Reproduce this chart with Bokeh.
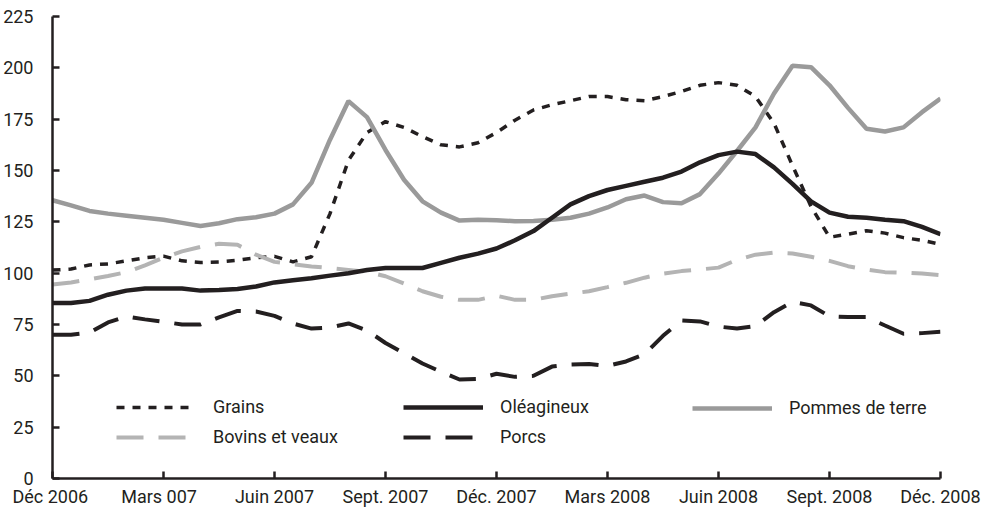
from bokeh.plotting import figure
from bokeh.models import FixedTicker, Legend, LegendItem, Range1d
from bokeh.embed import file_html
from bokeh.resources import INLINE

# ---- data (half-month index: 0 = Déc 2006 ... 24 = Déc 2008) ----
months = [i / 2 for i in range(49)]

grains = [101.5, 102, 104, 104.5, 106, 107.5, 108.3, 106, 105.2, 105.5, 106.3, 107.5,
          108.2, 105.5, 108, 129, 155, 168.5, 173.8, 171, 166.5, 162.5, 161.5, 163.5,
          168.5, 174.5, 179.5, 182, 184, 186, 186, 184.5, 184, 186, 188.5, 191.5,
          192.8, 191.5, 186, 173, 152.4, 132.5, 117.5, 119, 120.7, 119.5, 117.3, 116, 114]
oleagineux = [85.5, 85.5, 86.5, 89.5, 91.5, 92.5, 92.5, 92.5, 91.5, 91.8, 92.3, 93.5,
              95.5, 96.5, 97.5, 98.8, 100, 101.5, 102.5, 102.5, 102.5, 105, 107.5, 109.5,
              112, 116, 120.5, 127, 133.5, 137.5, 140.5, 142.5, 144.5, 146.5, 149.5, 154,
              157.5, 159.2, 158, 151.5, 143.5, 135, 129.5, 127.5, 127, 126, 125.3, 122.5, 119]
pommes = [135.5, 133, 130.3, 129, 128, 127, 126, 124.5, 123, 124.3, 126.3, 127.2,
          129, 133.5, 144, 165, 183.8, 176, 160, 145.5, 135, 129.5, 125.6, 126,
          125.8, 125.3, 125.4, 126, 127, 129, 132, 136, 137.8, 134.6, 134, 138.5,
          148.5, 159.5, 171, 187.5, 201, 200.3, 191.5, 180.5, 170.3, 169, 171, 178.4, 185]
bovins = [94.5, 95.5, 97, 98.6, 100.5, 103.8, 107.5, 110.6, 112.8, 114.3, 113.8, 109,
          105.5, 104.3, 103.3, 102.5, 101.6, 100.7, 98.5, 95, 91.2, 88.5, 87, 87,
          89, 87, 87, 88.8, 90, 91.2, 93.2, 95.3, 97.8, 99.8, 101, 101.8,
          102.7, 106.5, 109, 110, 109.6, 108, 106, 103.4, 101.8, 100.5, 100.2, 99.8, 99]
porcs = [70, 70, 71, 76, 78.9, 77.5, 76.3, 75, 75, 78.5, 81.6, 81.3,
         79.2, 75.5, 73, 73.5, 75.5, 72.1, 66, 61, 56, 52, 48.2, 48.5,
         51, 49.5, 50, 54.5, 55.5, 55.8, 54.8, 57, 60.5, 69.5, 77, 76.5,
         74, 73, 74.2, 81, 86, 84.3, 79, 78.6, 78.6, 74.5, 70.5, 70.8, 71.5]

x_ticks = [0, 3, 6, 9, 12, 15, 18, 21, 24]
x_labels = ["Déc  2006", "Mars   007", "Juin 2007", "Sept. 2007", "Déc. 2007",
            "Mars 2008", "Juin 2008", "Sept. 2008", "Déc. 2008"]
y_ticks = [0, 25, 50, 75, 100, 125, 150, 175, 200, 225]

# ---- styling ----
FONT = "Roboto"
INK = "#231f20"
GRAY = "#9a9a9a"
LIGHT = "#b4b4b4"

p = figure(width=992, height=514, output_backend="svg", toolbar_location=None,
           x_range=Range1d(0, 24), y_range=Range1d(0, 225),
           min_border_left=52, min_border_right=52, min_border_top=16,
           min_border_bottom=36)
p.outline_line_color = None
p.xgrid.visible = False
p.ygrid.visible = False
p.background_fill_color = "white"
p.border_fill_color = "white"

r_grains = p.line(months, grains, line_color=INK, line_width=3.5, line_dash="8 8")
r_bov = p.line(months, bovins, line_color=LIGHT, line_width=4, line_dash="27 15")
r_porcs = p.line(months, porcs, line_color=INK, line_width=4, line_dash="27 15")
r_pom = p.line(months, pommes, line_color=GRAY, line_width=4.5)
r_ole = p.line(months, oleagineux, line_color=INK, line_width=4.5)

# axes
p.xaxis.ticker = FixedTicker(ticks=x_ticks)
p.xaxis.major_label_overrides = {t: l for t, l in zip(x_ticks, x_labels)}
p.yaxis.ticker = FixedTicker(ticks=y_ticks)
for ax in (p.xaxis[0], p.yaxis[0]):
    ax.axis_line_color = INK
    ax.axis_line_width = 2.5
    ax.major_tick_line_color = INK
    ax.major_tick_line_width = 2.5
    ax.major_tick_in = 7
    ax.major_tick_out = 0
    ax.minor_tick_line_color = None
    ax.major_label_text_font = FONT
    ax.major_label_text_font_size = "18px"
    ax.major_label_text_color = INK
p.xaxis.major_label_standoff = 7
p.yaxis.major_label_standoff = 19

# legends (three columns)
def make_legend(items, loc):
    lg = Legend(items=items, location=loc, orientation="vertical",
                glyph_width=80, glyph_height=20, label_height=20,
                label_standoff=17, spacing=9, padding=0, margin=0,
                border_line_color=None, background_fill_alpha=0,
                label_text_font=FONT, label_text_font_size="18px",
                label_text_color=INK)
    p.add_layout(lg)
    return lg

make_legend([LegendItem(label="Grains", renderers=[r_grains]),
             LegendItem(label="Bovins et veaux", renderers=[r_bov])], (64, 31))
make_legend([LegendItem(label="Oléagineux", renderers=[r_ole]),
             LegendItem(label="Porcs", renderers=[r_porcs])], (351, 31))
make_legend([LegendItem(label="Pommes de terre", renderers=[r_pom])], (640, 60))

open("out.html", "w").write(file_html(p, INLINE))
